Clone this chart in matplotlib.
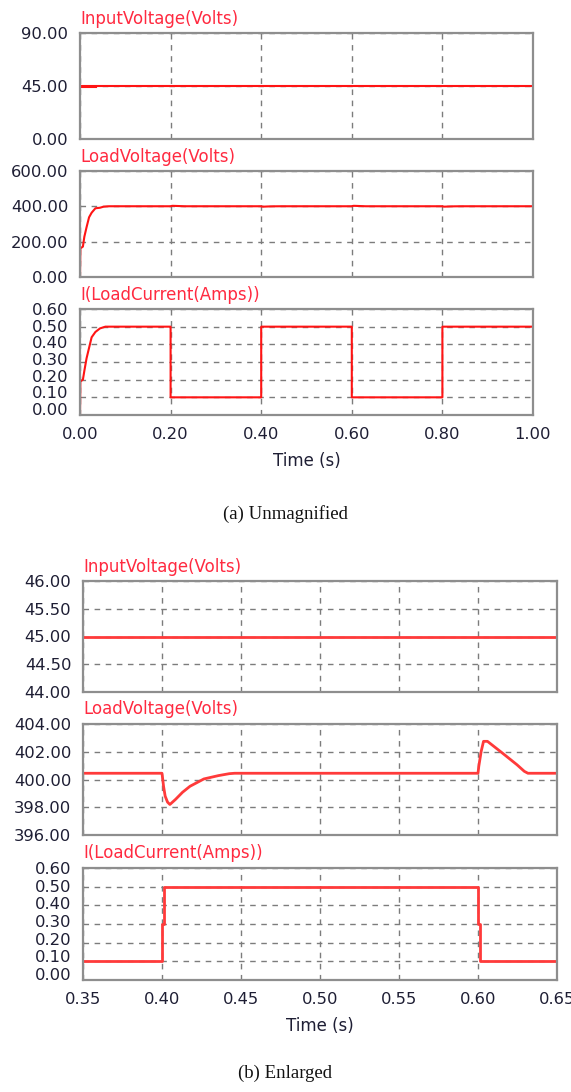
import matplotlib
matplotlib.use("Agg")
import matplotlib.pyplot as plt
from matplotlib.transforms import ScaledTranslation

# ---------------- data: (a) unmagnified, 0 .. 1 s ----------------
input_a_t = [0.0, 1.0]
input_a_v = [45.0, 45.0]
input_start_t = [0.0, 0.036]
input_start_v = [44.3, 44.3]

load_v_a_t = [0.0, 0.0008, 0.0064, 0.0096, 0.0144, 0.020, 0.0257, 0.034, 0.044,
              0.052, 0.064,
              0.200, 0.2005, 0.202, 0.2035, 0.206, 0.2155, 0.2247, 0.2293, 0.2316,
              0.400, 0.401, 0.402, 0.4035, 0.405, 0.4085, 0.413, 0.4177, 0.4265,
              0.4357, 0.4426, 0.446,
              0.600, 0.6005, 0.602, 0.6035, 0.606, 0.6155, 0.6247, 0.6293, 0.6316,
              0.800, 0.801, 0.802, 0.8035, 0.805, 0.8085, 0.813, 0.8177, 0.8265,
              0.8357, 0.8426, 0.846, 1.0]
load_v_a_v = [0.0, 162.0, 172.0, 228.0, 281.0, 338.0, 364.0, 389.0, 392.0,
              398.0, 400.45,
              400.45, 400.95, 402.02, 402.75, 402.75, 401.9, 401.06, 400.59, 400.45,
              400.45, 399.5, 398.8, 398.37, 398.2, 398.56, 399.08, 399.51, 400.04,
              400.28, 400.42, 400.45,
              400.45, 400.95, 402.02, 402.75, 402.75, 401.9, 401.06, 400.59, 400.45,
              400.45, 399.5, 398.8, 398.37, 398.2, 398.56, 399.08, 399.51, 400.04,
              400.28, 400.42, 400.45, 400.45]

current_a_t = [0.0, 0.0008, 0.0064, 0.0096, 0.0144, 0.020, 0.0257, 0.034, 0.044,
               0.056, 0.200, 0.200, 0.400, 0.400, 0.600, 0.600, 0.800, 0.800, 1.0]
current_a_i = [0.0, 0.19, 0.20, 0.25, 0.32, 0.38, 0.44, 0.47, 0.49,
               0.50, 0.50, 0.10, 0.10, 0.50, 0.50, 0.10, 0.10, 0.50, 0.50]

# ---------------- data: (b) enlarged, 0.35 .. 0.65 s ----------------
input_b_t = [0.35, 0.65]
input_b_v = [45.0, 45.0]

load_v_b_t = [0.35, 0.400, 0.401, 0.402, 0.4035, 0.405, 0.4085, 0.413, 0.4177,
              0.4265, 0.4357, 0.4426, 0.446,
              0.600, 0.6005, 0.602, 0.6035, 0.606, 0.6155, 0.6247, 0.6293, 0.6316,
              0.65]
load_v_b_v = [400.45, 400.45, 399.5, 398.8, 398.37, 398.2, 398.56, 399.08, 399.51,
              400.04, 400.28, 400.42, 400.45,
              400.45, 400.95, 402.02, 402.75, 402.75, 401.9, 401.06, 400.59, 400.45,
              400.45]

current_b_t = [0.35, 0.400, 0.400, 0.401, 0.401, 0.600, 0.600, 0.6015, 0.6015, 0.65]
current_b_i = [0.10, 0.10, 0.30, 0.30, 0.50, 0.50, 0.30, 0.30, 0.10, 0.10]

# ---------------- axis settings ----------------
titles = ["InputVoltage(Volts)", "LoadVoltage(Volts)", "I(LoadCurrent(Amps))"]
yticks_a = [[0.0, 45.0, 90.0],
            [0.0, 200.0, 400.0, 600.0],
            [0.0, 0.1, 0.2, 0.3, 0.4, 0.5, 0.6]]
yticks_b = [[44.0, 44.5, 45.0, 45.5, 46.0],
            [396.0, 398.0, 400.0, 402.0, 404.0],
            [0.0, 0.1, 0.2, 0.3, 0.4, 0.5, 0.6]]
xticks_a = [0.0, 0.2, 0.4, 0.6, 0.8, 1.0]
xticks_b = [0.35, 0.40, 0.45, 0.50, 0.55, 0.60, 0.65]

W, H = 571, 1092
fig = plt.figure(figsize=(W / 100, H / 100), dpi=100)
plt.rcParams["font.family"] = ["DejaVu Sans"]

RED_A = "#ff1414"
RED_B = "#ff3a3a"
TITLE_RED = "#ff2a40"
TICK_COL = "#1e1e34"
FRAME = "#8e8e8e"
GRID = "#7c7c7c"
TICK_SIZE = 11.8


def rect(l, r, t, b):
    return [l / W, 1 - b / H, (r - l) / W, (b - t) / H]


def style_axes(ax, xticks, yticks, title, show_x, squeeze=False):
    ax.set_xlim(xticks[0], xticks[-1])
    ax.set_ylim(yticks[0], yticks[-1])
    ax.set_xticks(xticks)
    ax.set_yticks(yticks)
    ax.set_yticklabels(["%.2f" % v for v in yticks])
    if show_x:
        ax.set_xticklabels(["%.2f" % v for v in xticks])
    else:
        ax.set_xticklabels([])
    for sp in ax.spines.values():
        sp.set_color(FRAME)
        sp.set_linewidth(1.6)
    ax.tick_params(axis="both", length=0, labelsize=TICK_SIZE, labelcolor=TICK_COL)
    ax.tick_params(axis="y", pad=8.4)
    ax.tick_params(axis="x", pad=8.6)
    ax.grid(True, color=GRID, linestyle=(0, (4.0, 4.0)), linewidth=1.0)
    ax.set_axisbelow(True)
    ax.text(0.0, 1.0, title, transform=ax.transAxes
            + ScaledTranslation(0, 0.095, fig.dpi_scale_trans),
            ha="left", va="baseline", color=TITLE_RED, fontsize=12)
    if squeeze:
        # pack the crowded labels slightly upward from the bottom
        lo, hi = yticks[0], yticks[-1]
        for lab, v in zip(ax.get_yticklabels(), yticks):
            dy = 6.0 * (hi - v) / (hi - lo) / 100.0
            lab.set_transform(lab.get_transform()
                              + ScaledTranslation(0, dy, fig.dpi_scale_trans))


# ---------------- (a) unmagnified ----------------
ax1 = fig.add_axes(rect(80, 533, 33, 139))
ax1.plot(input_a_t, input_a_v, color=RED_A, lw=1.5)
ax1.plot(input_start_t, input_start_v, color=RED_A, lw=1.5)
style_axes(ax1, xticks_a, yticks_a[0], titles[0], False)

ax2 = fig.add_axes(rect(80, 533, 171, 277))
ax2.plot(load_v_a_t, load_v_a_v, color=RED_A, lw=1.5)
style_axes(ax2, xticks_a, yticks_a[1], titles[1], False)

ax3 = fig.add_axes(rect(80, 533, 309, 415))
ax3.plot(current_a_t, current_a_i, color=RED_A, lw=1.5)
style_axes(ax3, xticks_a, yticks_a[2], titles[2], True, squeeze=True)
ax3.set_xlabel("Time (s)", fontsize=12, color=TICK_COL, labelpad=7.5)

fig.text(0.5, 1 - 514 / H, "(a) Unmagnified", ha="center", va="center",
         fontsize=13.5, family="Liberation Serif", color="#111111")

# ---------------- (b) enlarged ----------------
bx1 = fig.add_axes(rect(83, 557, 581, 692))
bx1.plot(input_b_t, input_b_v, color=RED_B, lw=2.0)
style_axes(bx1, xticks_b, yticks_b[0], titles[0], False)

bx2 = fig.add_axes(rect(83, 557, 724, 835))
bx2.plot(load_v_b_t, load_v_b_v, color=RED_B, lw=2.0)
style_axes(bx2, xticks_b, yticks_b[1], titles[1], False)

bx3 = fig.add_axes(rect(83, 557, 868, 980))
bx3.plot(current_b_t, current_b_i, color=RED_B, lw=2.0)
style_axes(bx3, xticks_b, yticks_b[2], titles[2], True, squeeze=True)
bx3.set_xlabel("Time (s)", fontsize=12, color=TICK_COL, labelpad=7.5)

fig.text(0.5, 1 - 1073 / H, "(b) Enlarged", ha="center", va="center",
         fontsize=13.5, family="Liberation Serif", color="#111111")

fig.savefig("out.png", dpi=100, facecolor="white")
